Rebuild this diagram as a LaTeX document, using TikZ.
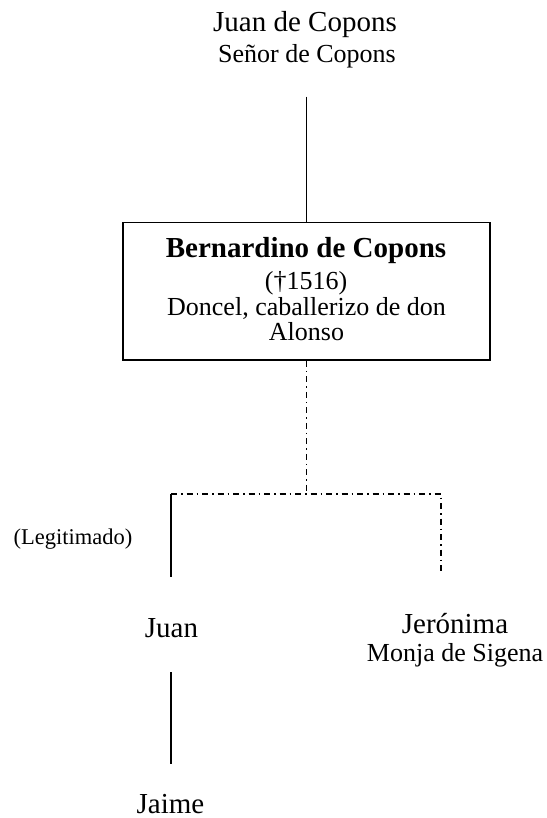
\documentclass[tikz,border=0pt]{standalone}
\usepackage{fontspec}
\setmainfont{Liberation Serif}
\begin{document}
\begin{tikzpicture}[x=1pt,y=-1pt,
  pname/.style={font=\fontsize{29}{34}\selectfont, anchor=base, inner sep=0pt},
  ptitle/.style={font=\fontsize{26}{30}\selectfont, anchor=base, inner sep=0pt},
  pnote/.style={font=\fontsize{22.5}{26}\selectfont, anchor=base, inner sep=0pt},
  pbox/.style={draw, line width=1.9pt, inner sep=0pt, minimum width=367pt, minimum height=137.5pt},
  solidlink/.style={line width=1.8pt},
  illeg/.style={line width=1.5pt, dash pattern=on 6pt off 4pt on 1.5pt off 4pt}]
\useasboundingbox (0,0) rectangle (546,818);

% Juan de Copons
\node[pname]  (jc)  at (305,31.7) {Juan de Copons};
\node[ptitle] (jct) at (307,63) {Señor de Copons};

% Bernardino box
\node[pbox] (bern) at (306.5,291.25) {};
\node[pname, font=\fontsize{29}{34}\selectfont\bfseries] (b1) at (306,257.3) {Bernardino de Copons};
\node[ptitle] (b2) at (306,289) {(†1516)};
\node[ptitle] (b3) at (306.5,315) {Doncel, caballerizo de don};
\node[ptitle] (b4) at (306.5,340) {Alonso};

% children
\node[pnote]  (leg)  at (73,544) {(Legitimado)};
\node[pname]  (juan) at (171.5,637) {Juan};
\node[pname]  (jer)  at (455,633.3) {Jerónima};
\node[ptitle] (jert) at (455,661.7) {Monja de Sigena};
\node[pname]  (jaime) at (170.5,813) {Jaime};

% connector end points
\coordinate (jctop) at (306.5,96.7);
\coordinate (junc)  at (306.5,494);
\coordinate (lcorner) at (171,494);
\coordinate (rcorner) at (441,494);
\coordinate (lend) at (171,577);
\coordinate (rend) at (441,573);
\coordinate (jtop) at (170.7,672);
\coordinate (jbot) at (170.7,764);

\draw[solidlink] (jctop) -- (bern.north);
\draw[illeg] (bern.south) -- (junc);
\draw[illeg] (lcorner) -- (rcorner) -- (rend);
\draw[solidlink] (lcorner) -- (lend);
\draw[solidlink] (jtop) -- (jbot);
\end{tikzpicture}
\end{document}
